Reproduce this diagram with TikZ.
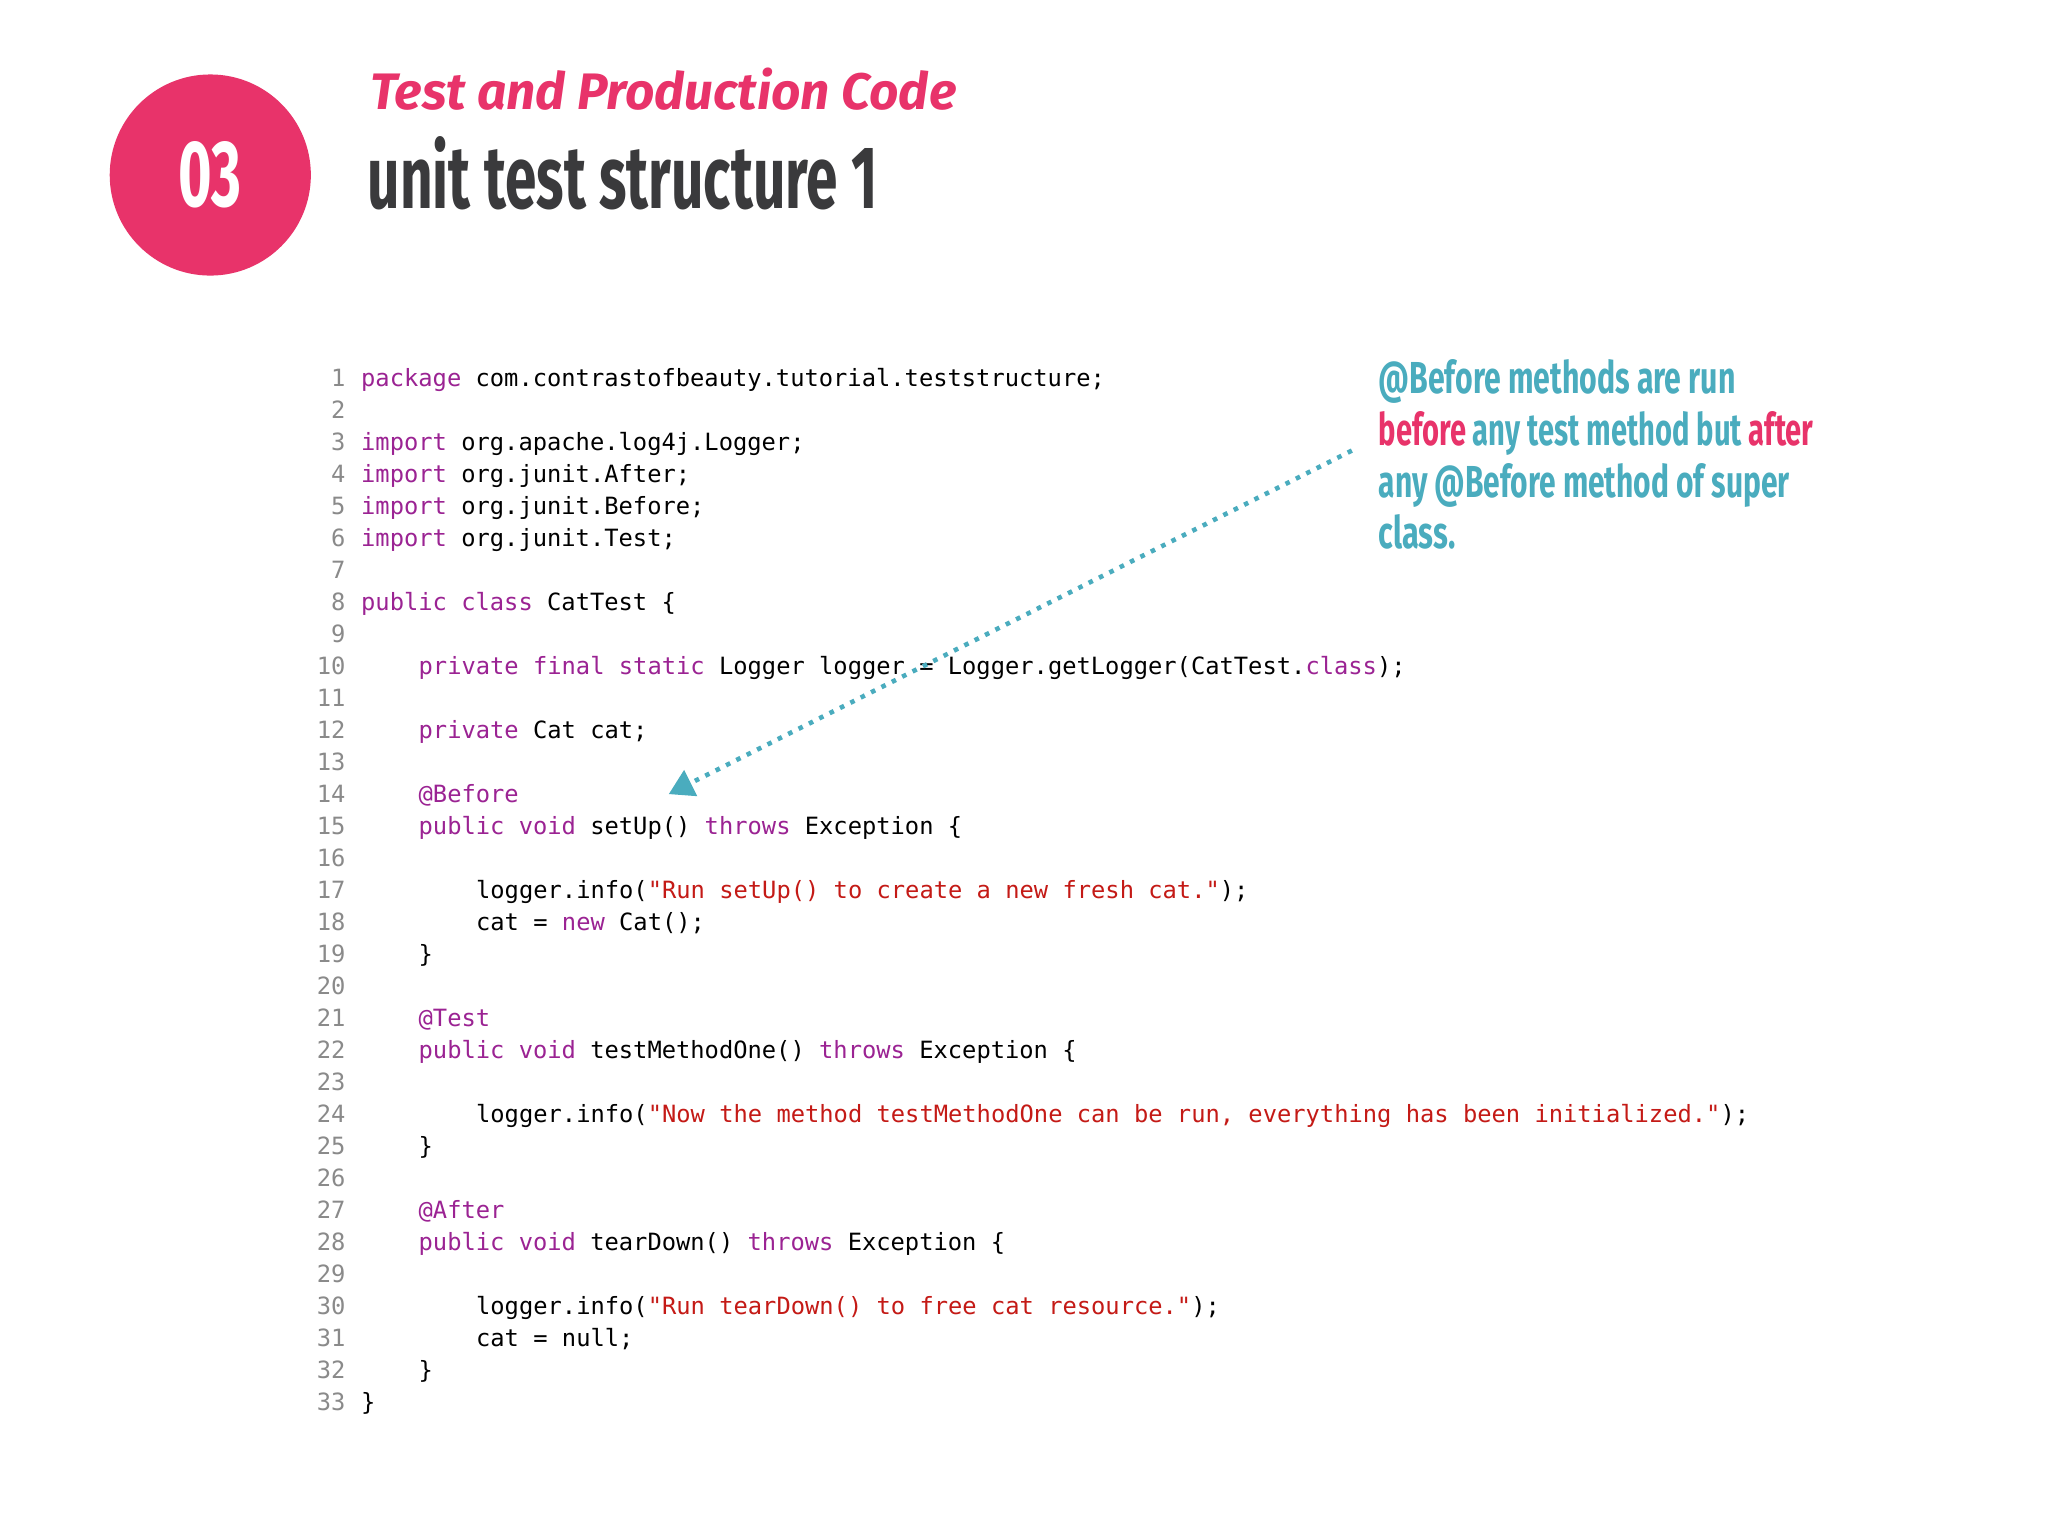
\documentclass[tikz,border=0pt]{standalone}
\usepackage{fontspec}
\usepackage{graphicx}
\usetikzlibrary{arrows.meta}
\newfontfamily\codefont{DejaVu Sans Mono}
\newfontfamily\headfont{Fira Sans}
\definecolor{pinkc}{HTML}{E8336A}
\definecolor{darkt}{HTML}{3A3A3C}
\definecolor{tealc}{HTML}{4AACBE}
\definecolor{kw}{HTML}{9B2393}
\definecolor{str}{HTML}{C41A16}
\definecolor{lnum}{HTML}{8A8A8A}
\newcommand{\kw}[1]{\textcolor{kw}{#1}}
\newcommand{\st}[1]{\textcolor{str}{#1}}
\begin{document}
\begin{tikzpicture}[x=0.01306cm,y=-0.01306cm,
  code/.style={anchor=base west,inner sep=0pt,font=\codefont\fontsize{6.76pt}{8pt}\selectfont},
  num/.style={anchor=base east,inner sep=0pt,text=lnum,font=\codefont\fontsize{6.76pt}{8pt}\selectfont},
  note/.style={anchor=base west,inner sep=0pt,font=\headfont\bfseries\fontsize{13.5pt}{16pt}\selectfont}]
\useasboundingbox (0,0) rectangle (1568,1176);
\fill[white] (0,0) rectangle (1568,1176);
\node[circle,fill=pinkc,minimum size=154*0.01306cm,inner sep=0pt] (circ) at (161,134) {};
\node[text=white,inner sep=0pt] (num03) at (circ.center) {\resizebox{0.63cm}{0.65cm}{\headfont\bfseries 03}};
\node[anchor=base west,inner sep=0pt,text=pinkc] (sub) at (283,84) {\resizebox{5.86cm}{!}{\headfont\bfseries\itshape Test and Production Code}};
\node[anchor=base west,inner sep=0pt,text=darkt] (title) at (281,160) {\resizebox{5.1cm}{0.72cm}{\headfont\bfseries unit test structure 1}};
\foreach \n in {1,...,33}{\node[num] (n\n) at (265,{296+(\n-1)*24.5}) {\n};}
\def\L#1{{296+(#1-1)*24.5}}
\node[code] (c1) at (276,\L1) {\kw{package} com.contrastofbeauty.tutorial.teststructure;};
\node[code] (c3) at (276,\L3) {\kw{import} org.apache.log4j.Logger;};
\node[code] (c4) at (276,\L4) {\kw{import} org.junit.After;};
\node[code] (c5) at (276,\L5) {\kw{import} org.junit.Before;};
\node[code] (c6) at (276,\L6) {\kw{import} org.junit.Test;};
\node[code] (c8) at (276,\L8) {\kw{public} \kw{class} CatTest \{};
\node[code] (c10) at (320,\L{10}) {\kw{private} \kw{final} \kw{static} Logger logger = Logger.getLogger(CatTest.\kw{class});};
\node[code] (c12) at (320,\L{12}) {\kw{private} Cat cat;};
\node[code] (c14) at (320,\L{14}) {\kw{@Before}};
\node[code] (c15) at (320,\L{15}) {\kw{public} \kw{void} setUp() \kw{throws} Exception \{};
\node[code] (c17) at (364,\L{17}) {logger.info(\st{"Run setUp() to create a new fresh cat."});};
\node[code] (c18) at (364,\L{18}) {cat = \kw{new} Cat();};
\node[code] (c19) at (320,\L{19}) {\}};
\node[code] (c21) at (320,\L{21}) {\kw{@Test}};
\node[code] (c22) at (320,\L{22}) {\kw{public} \kw{void} testMethodOne() \kw{throws} Exception \{};
\node[code] (c24) at (364,\L{24}) {logger.info(\st{"Now the method testMethodOne can be run, everything has been initialized."});};
\node[code] (c25) at (320,\L{25}) {\}};
\node[code] (c27) at (320,\L{27}) {\kw{@After}};
\node[code] (c28) at (320,\L{28}) {\kw{public} \kw{void} tearDown() \kw{throws} Exception \{};
\node[code] (c30) at (364,\L{30}) {logger.info(\st{"Run tearDown() to free cat resource."});};
\node[code] (c31) at (364,\L{31}) {cat = null;};
\node[code] (c32) at (320,\L{32}) {\}};
\node[code] (c33) at (276,\L{33}) {\}};
\node[note,text=tealc] (a1) at (1055,301) {\resizebox{3.57cm}{0.34cm}{@Before methods are run}};
\node[note,text=tealc] (a2) at (1055,341) {\resizebox{4.35cm}{0.34cm}{\textcolor{pinkc}{before} any test method but \textcolor{pinkc}{after}}};
\node[note,text=tealc] (a3) at (1055,381) {\resizebox{4.11cm}{0.34cm}{any @Before method of super}};
\node[note,text=tealc] (a4) at (1055,420) {\resizebox{0.77cm}{0.34cm}{class.}};
\coordinate (as) at (1035,345);
\coordinate (ae) at (512,608);
\draw[tealc,line width=1.3pt,dotted,-{Triangle[length=7pt,width=8pt]}] (as) -- (ae);
\end{tikzpicture}
\end{document}
